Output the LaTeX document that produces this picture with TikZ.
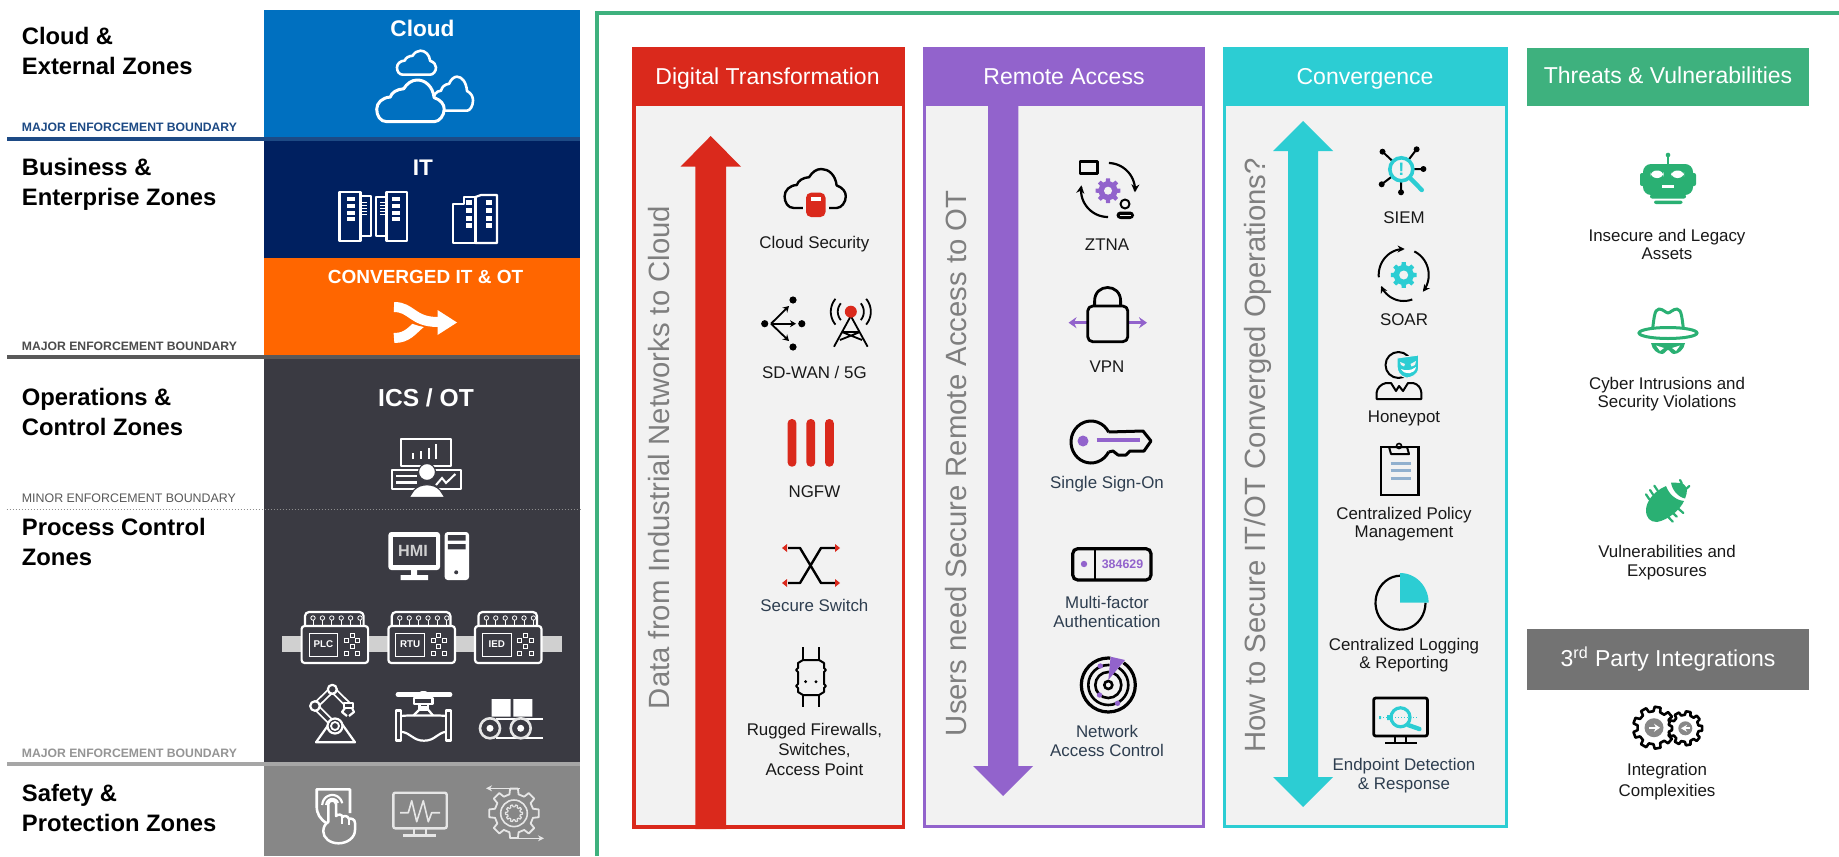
\documentclass[tikz,border=0pt]{standalone}
\usepackage{fontspec}
\setmainfont{Liberation Sans}
\usetikzlibrary{arrows.meta}
\definecolor{cBlue}{HTML}{0070C0}
\definecolor{cNavy}{HTML}{002060}
\definecolor{cOrange}{HTML}{FF6600}
\definecolor{cIcs}{HTML}{3A3A42}
\definecolor{cSafe}{HTML}{878787}
\definecolor{cB1}{HTML}{1D4A85}
\definecolor{cB2}{HTML}{595959}
\definecolor{cB3}{HTML}{A6A6A6}
\definecolor{cRed}{HTML}{DA291C}
\definecolor{cPur}{HTML}{9263CC}
\definecolor{cCyan}{HTML}{2CCDD3}
\definecolor{cGreen}{HTML}{3EB17E}
\definecolor{cIcon}{HTML}{2AB073}
\definecolor{cPanel}{HTML}{F2F2F2}
\definecolor{cHead}{HTML}{737373}
\definecolor{cSlate}{HTML}{2E3E50}
\definecolor{cRot}{HTML}{7F7F7F}
\definecolor{cBarG}{HTML}{D0D0D0}
\definecolor{cLite}{HTML}{E6E6E6}
\definecolor{cClip}{HTML}{91B0CE}
\tikzset{
  zonelabel/.style={anchor=west,align=left,inner sep=0pt,text=black,font=\fontsize{11.9}{15}\selectfont\bfseries},
  bound/.style={anchor=west,inner sep=0pt,font=\fontsize{6.1}{7}\selectfont\bfseries},
  zonetitle/.style={inner sep=0pt,text=white,font=\fontsize{11.3}{13}\selectfont\bfseries},
  coltitle/.style={anchor=base,inner sep=0pt,text=white,font=\fontsize{11.5}{13}\selectfont},
  item/.style={inner sep=0pt,align=center,text=black!90,font=\fontsize{8.45}{9.2}\selectfont},
  itemS/.style={item,text=cSlate},
  rottext/.style={rotate=90,anchor=west,inner sep=0pt,text=cRot,font=\fontsize{14.65}{16}\selectfont},
  wl/.style={draw=white,line width=1.1pt,line join=round},
  bl/.style={draw=black,line width=1pt,line join=round},
  blt/.style={draw=black,line width=1.4pt,line join=round}
}
\newcommand\CloudIcon[5]{\path[#1,shift={(#2,#3)},xscale=#4,yscale=#5] (.15,1) .. controls (.05,1) and (0,.85) .. (0,.7) .. controls (0,.55) and (.08,.42) .. (.2,.41) .. controls (.22,.3) and (.3,.22) .. (.4,.21) .. controls (.45,.08) and (.52,0) .. (.6,0) .. controls (.72,0) and (.83,.15) .. (.85,.42) .. controls (.95,.48) and (1,.58) .. (1,.7) .. controls (1,.85) and (.93,1) .. (.85,1) -- cycle;}
\newcommand\ArcP[7]{\draw[#1] plot[domain=#6:#7,samples=30] ({#2+#4*cos(\x)},{#3+#5*sin(\x)});}
\newcommand\Gear[6]{\pgfmathsetmacro\gt{360/#6}\path[#1,shift={(#2,#3)}] ({-0.2*\gt}:#5) \foreach \k [evaluate=\k as \ga using (\k-1)*\gt] in {1,...,#6}{ -- ({\ga-0.2*\gt}:#5) -- ({\ga+0.2*\gt}:#5) -- ({\ga+0.3*\gt}:#4) -- ({\ga+0.7*\gt}:#4)} -- cycle;}
\newcommand\Ctrl[3]{\begin{scope}[shift={(#1,0)}]
  \draw[wl,fill=cIcs,rounded corners=2pt] (3.4,628) -- (3.4,612) -- (62,612) -- (62,628);
  \foreach \i in {0,...,5}{\draw[white,line width=.4pt] ({11.4+9.4*\i},620) -- ({11.4+9.4*\i},625); \draw[white,line width=.4pt] ({11.4+9.4*\i},618) circle[radius=2.2];}
  \draw[wl,fill=cIcs,rounded corners=1.5pt] (0,626) rectangle (66.5,663);
  \draw[white,line width=.5pt] (7.5,633) rectangle (36,656);
  \node[inner sep=0pt,text=white,font=\fontsize{4.9}{5}\selectfont\bfseries] (#2) at (21.75,644.5) {#3};
  \foreach \p/\q in {50.5/635,44.7/640.3,56.2/640.3,50.5/646,44.7/653,56.2/653}{\draw[white,line width=.45pt] (\p-2,\q-2) rectangle (\p+2,\q+2);}
\end{scope}}
\begin{document}
\begin{tikzpicture}[x=.5pt,y=-.5pt]
\useasboundingbox (0,0) rectangle (1839,856);
\fill[white] (0,0) rectangle (1839,856);
% ---- left column bands
\fill[cBlue] (264,10) rectangle (580,137);
\fill[cNavy] (264,141) rectangle (580,258);
\fill[cOrange] (264,258) rectangle (580,355);
\fill[cIcs] (264,359) rectangle (580,763);
\fill[cSafe] (264,766) rectangle (580,856);
\fill[cB1] (6.5,136.7) rectangle (580,140.7);
\fill[cB2] (6.5,355) rectangle (580,359);
\fill[cB3] (6.5,762.3) rectangle (580,766.3);
\draw[cB3!85!black,line width=.5pt,densely dotted] (6.5,509.5) -- (580,509.5);
% left labels
\node[zonelabel] (zCloud) at (21.5,51) {Cloud \&\\External Zones};
\node[zonelabel] (zBiz) at (21.5,184) {Business \&\\Enterprise Zones};
\node[zonelabel] (zOps) at (21.5,411.5) {Operations \&\\Control Zones};
\node[zonelabel] (zProc) at (21.5,541.5) {Process Control\\Zones};
\node[zonelabel] (zSafe) at (21.5,808) {Safety \&\\Protection Zones};
\node[bound,text=cB1] (b1) at (21.5,127) {MAJOR ENFORCEMENT BOUNDARY};
\node[bound,text=cB2!85!black] (b2) at (21.5,346) {MAJOR ENFORCEMENT BOUNDARY};
\node[bound,text=cB2,font=\fontsize{6.2}{7}\selectfont] (b3) at (21.5,498.5) {MINOR ENFORCEMENT BOUNDARY};
\node[bound,text=cB3!90!black] (b4) at (21.5,753.5) {MAJOR ENFORCEMENT BOUNDARY};
\node[zonetitle] (tCloud) at (422.5,28) {Cloud};
\node[zonetitle] (tIT) at (423,168) {IT};
\node[zonetitle,font=\fontsize{9.5}{11}\selectfont\bfseries] (tConv) at (425.5,277) {CONVERGED IT \& OT};
\node[zonetitle,font=\fontsize{12.3}{14}\selectfont\bfseries] (tIcs) at (426,397.5) {ICS / OT};
% clouds
\CloudIcon{wl,line width=1.3pt,fill=cBlue}{397}{50.7}{39}{24}
\CloudIcon{wl,line width=1.3pt,fill=cBlue}{433}{76.7}{40}{34}
\CloudIcon{wl,fill=cBlue,line width=1.5pt}{376.7}{80}{67.5}{41.7}
% servers
\foreach \a/\b/\c/\d in {339.5/192/360.5/241,360.5/196/371/236,376/197/386.5/236,386.5/192/407/241}{\draw[wl,fill=cNavy] (\a,\b) rectangle (\c,\d);}
\foreach \yy in {197,204,211,217}{\fill[white] (347,\yy) rectangle (355,\yy+3.5);\fill[white] (392,\yy) rectangle (400,\yy+3.5);}
\foreach \yy in {201.5,204.5,207.5,210.5,213.5}{\fill[white] (362,\yy) rectangle (367.4,\yy+1.5);\fill[white] (380,\yy) rectangle (385,\yy+1.5);}
\draw[wl] (453,243) -- (453,204) -- (464,204) -- (464,197) -- (475.5,197) -- (475.5,243) -- cycle;
\draw[wl] (475.5,243) -- (475.5,197) -- (481,195) -- (497,195) -- (497,243) -- cycle;
\foreach \yy in {200,208,216,223}{\fill[white] (466,\yy) rectangle (472,\yy+5);\fill[white] (486,\yy) rectangle (492,\yy+5);}
% merge
\draw[white,line width=5pt] (394,338) .. controls (408,338) and (412,330) .. (422,322);
\draw[cOrange,line width=7pt] (405,312) .. controls (412,316) and (418,320) .. (438,322);
\draw[white,line width=5pt] (394,307) .. controls (412,307) and (412,322) .. (438,322);
\fill[white] (437.5,310) -- (457,322.5) -- (437.5,335) -- cycle;
% operator
\draw[wl,fill=cIcs] (401,439) rectangle (451,466);
\foreach \xx/\yy in {413/453,421/450.7,428.6/448,435.5/444}{\draw[white,line width=1pt] (\xx,459) -- (\xx,\yy);}
\draw[wl,fill=cIcs] (392,470) rectangle (461,489);
\draw[white,line width=1.2pt] (396,475.7) -- (417,475.7) (396,482.3) -- (417,482.3);
\draw[white,line width=1pt] (436,485) -- (442,478) -- (446,483) -- (455.4,474);
\fill[white,draw=cIcs,line width=.6pt] (427,472) circle[radius=8.5];
\path[fill=white,draw=cIcs,line width=.6pt] (409,497.5) -- (414,490) .. controls (420,483) and (434,483) .. (440,490) -- (445,497.5) -- cycle;
% HMI
\fill[white,rounded corners=1.5pt] (388.4,532) rectangle (440,570);
\fill[cIcs] (393,537) rectangle (436,565);
\node[inner sep=0pt,text=cBarG,font=\fontsize{8.1}{9}\selectfont\bfseries] (hmi) at (413,550.5) {HMI};
\fill[white] (411,570) rectangle (417,575) (400.7,575) rectangle (428,580);
\fill[white,rounded corners=1.5pt] (444.7,532) rectangle (469,580);
\fill[cIcs] (447.8,535) rectangle (465.7,540.7) (447.8,544) rectangle (465.7,549.3);
\fill[cIcs] (456.2,572.3) circle[radius=2];
% controllers
\fill[cBarG] (282,636) rectangle (562,652);
\Ctrl{301.6}{plc}{PLC}
\Ctrl{388.4}{rtu}{RTU}
\Ctrl{475}{ied}{IED}
% robot
\draw[wl,fill=cIcs] (316,742.3) -- (329,724) -- (342,724) -- (355,742.3) -- cycle;
\draw[white,line width=3.4pt,line cap=round,line join=round] (335,726) -- (315,706) -- (332.3,689.3) -- (348.3,705);
\draw[cIcs,line width=1.6pt,line cap=round,line join=round] (335,726) -- (315,706) -- (332.3,689.3) -- (348.3,705);
\draw[wl,fill=cIcs] (335,726) circle[radius=7.5];
\draw[white,line width=.9pt] (335,726) circle[radius=4];
\draw[wl,fill=cIcs] (315,706) circle[radius=4.8];
\draw[wl,fill=cIcs] (332.3,689.3) circle[radius=4.5];
\draw[wl,fill=cIcs] (344,703) rectangle (353,708);
\draw[wl] (345,708) -- (342,712) -- (347,716) (352,708) -- (354,712) -- (349,716);
% valve
\draw[white,line width=2.4pt,line cap=round] (398,694.7) -- (450,694.7);
\fill[white,rounded corners=1.5pt] (419,691) rectangle (428,695);
\draw[wl,fill=cIcs] (414,698) rectangle (432.5,704);
\draw[wl,fill=cIcs] (419.5,704) rectangle (428,709.5);
\fill[white] (419.5,706) rectangle (428,709.5);
\draw[wl] (413.5,715.5) -- (419.5,709.5) -- (428,709.5) -- (433,715.5);
\draw[wl] (396.2,710.5) rectangle (401.2,740.5);
\draw[wl] (446.2,710.5) rectangle (451.2,740.5);
\draw[wl] (401.2,716) .. controls (405,715.5) and (409,715.5) .. (413.5,715.5) -- (433,715.5) .. controls (438,715.5) and (442,715.5) .. (446.2,716);
\draw[wl] (401.2,731.7) .. controls (411,733) and (413,740.7) .. (424,740.7) .. controls (435,740.7) and (437,733) .. (446.2,731.7);
% conveyor
\fill[white] (491.7,699) rectangle (510.7,716.7) (513.3,699) rectangle (532.3,716.7);
\draw[white,line width=1.1pt] (496,719) -- (543,719) (496,738) -- (543,738);
\foreach \xx in {490,520.7}{\draw[cLite,line width=1.3pt,fill=cIcs] (\xx,728.3) circle[radius=10];\fill[white] (\xx,728.3) circle[radius=3.5];}
% safety: shield
\draw[white,line width=1.3pt,line join=round] (327,823.5) .. controls (320,819) and (316.7,814) .. (316.7,806) -- (316.7,789.3) -- (350,789.3) -- (350,813);
\ArcP{white,line width=1.1pt}{332.3}{805}{10}{10}{-180}{-10}
\ArcP{white,line width=1.1pt}{332.3}{805}{6}{6}{-180}{-20}
\draw[white,line width=1.25pt,fill=cSafe,line join=round] (328.3,822) -- (328.3,804) .. controls (328.3,799.5) and (336,799.5) .. (336,804) -- (336,816) .. controls (338,814) and (342,814) .. (342.5,817) .. controls (344,815.5) and (348,815.5) .. (349,819) .. controls (351,818) and (355,819) .. (355,823) -- (355,830) .. controls (355,838) and (347,843.3) .. (338.5,843.3) .. controls (330,843.3) and (323.3,838) .. (323.3,831.5) .. controls (323.3,827) and (325,824) .. (328.3,822) -- cycle;
\draw[white,line width=.9pt] (342.3,817) -- (342.3,824) (349,819) -- (349,825);
% safety: monitor
\draw[draw=cLite,line width=1.2pt,rounded corners=1pt] (393.3,792.7) rectangle (446.7,828.3);
\draw[cLite,line width=.8pt,line join=round] (400,812.7) -- (408.3,812.7) -- (411.7,800.7) -- (416.7,821.7) -- (423.3,800.7) -- (428.3,821.7) -- (431.7,812.7) -- (440,812.7);
\draw[cLite,line width=1pt] (413.5,828.3) -- (413.5,835) (426,828.3) -- (426,835);
\draw[cLite,line width=1.2pt] (403.3,835.5) -- (436,835.5);
% safety: gear
\Gear{draw=cLite,line width=.9pt,line join=round}{514}{813.3}{19.5}{25}{8}
\draw[cLite,line width=.8pt] (514,813.3) circle[radius=13.3];
\Gear{draw=cLite,line width=.6pt,line join=round}{514}{813.3}{6.5}{8.5}{10}
\draw[cLite,line width=.7pt,-{Stealth[length=3pt,width=3pt]}] (520,788.3) -- (486,788.3);
\draw[cLite,line width=.7pt,-{Stealth[length=3pt,width=3pt]}] (510,838.3) -- (544,838.3);
% ---- green frame
\draw[cGreen,line width=2pt] (597,856) -- (597,13) -- (1839,13);
% ---- panels
\fill[cRed] (632,47) rectangle (905,829);
\fill[cPanel] (635.5,106) rectangle (902,825);
\fill[cPur] (923,47) rectangle (1205,828);
\fill[cPanel] (926,106) rectangle (1202,825);
\fill[cCyan] (1223,47) rectangle (1507.5,828);
\fill[cPanel] (1226,106) rectangle (1504.5,825);
\fill[cGreen] (1527,48) rectangle (1809,106);
\fill[cHead] (1527,629) rectangle (1809,690);
\node[coltitle] (hDigital) at (767.5,84.3) {Digital Transformation};
\node[coltitle] (hRemote) at (1064,84.3) {Remote Access};
\node[coltitle] (hConv) at (1365,84.3) {Convergence};
\node[coltitle] (hThreat) at (1668,83.3) {Threats \& Vulnerabilities};
\node[coltitle] (hThird) at (1668,666.7) {3\textsuperscript{rd} Party Integrations};
% big arrows
\fill[cRed] (695.4,829) -- (695.4,166.7) -- (680.5,166.7) -- (710.7,136) -- (741,166.7) -- (726,166.7) -- (726,829) -- cycle;
\fill[cPur] (988,106) -- (988,766) -- (973,766) -- (1003,796) -- (1033,766) -- (1018.4,766) -- (1018.4,106) -- cycle;
\fill[cCyan] (1303,121) -- (1333,151) -- (1318,151) -- (1318,777) -- (1333,777) -- (1303,807) -- (1273,777) -- (1288,777) -- (1288,151) -- (1273,151) -- cycle;
\node[rottext] (rData) at (659,709.5) {Data from Industrial Networks to Cloud};
\node[rottext] (rUsers) at (956,736.5) {Users need Secure Remote Access to OT};
\node[rottext] (rHow) at (1258,753) {How to Secure IT/OT Converged Operations?};
% ---- red items
\node[item] (iCloud) at (814.4,244.5) {Cloud Security};
\node[item] (iSd) at (814.4,372) {SD-WAN / 5G};
\node[item] (iNgfw) at (814.4,492) {NGFW};
\node[itemS] (iSwitch) at (814.4,605) {Secure Switch};
\node[item,font=\fontsize{8.45}{10.2}\selectfont] (iRug) at (814.4,749.5) {Rugged Firewalls,\\Switches,\\Access Point};
\CloudIcon{bl,line width=1.2pt}{784.6}{169}{61.2}{39}
\fill[cPanel] (803,195) rectangle (828.5,220);
\fill[cRed,rounded corners=2.5pt] (806,192.7) rectangle (825.5,217);
\fill[white] (811,197) rectangle (820.8,201);
% sd-wan
\foreach \xx/\yy in {793/300,764.7/323.7,801.8/323.7,793/347}{\fill (\xx,\yy) circle[radius=3.6];}
\draw[black,line width=.9pt,-{Stealth[length=3pt,width=3.5pt]}] (771,323.7) -- (789,306);
\draw[black,line width=.9pt,-{Stealth[length=3pt,width=3.5pt]}] (771,323.7) -- (796,323.7);
\draw[black,line width=.9pt,-{Stealth[length=3pt,width=3.5pt]}] (771,323.7) -- (789,341);
% 5G tower
\foreach \r/\q in {13/40,20/40}{\ArcP{black,line width=.9pt}{850.8}{311.7}{\r}{\r}{-\q}{\q}\ArcP{black,line width=.9pt}{850.8}{311.7}{\r}{\r}{{180-\q}}{{180+\q}}}
\draw[black,line width=.9pt,line join=round] (834,346.7) -- (850.8,316) -- (867.6,346.7) (842,332) -- (860,332) (842,332) -- (862,340) (860,332) -- (840,340);
\fill[cRed] (850.8,311.7) circle[radius=6];
% NGFW
\foreach \xx in {787.6,806.4,825}{\fill[cRed,rounded corners=2.1pt] (\xx,419) rectangle (\xx+8.8,466.7);}
% switch
\draw[black,line width=1.2pt,line join=round] (788,548) -- (800,548) -- (821,583) -- (835,583) (788,583) -- (800,583) -- (821,548) -- (835,548);
\foreach \xx/\s in {782/1,840/-1}{\foreach \yy in {548,583}{\fill[cRed] (\xx,\yy) -- (\xx+\s*5,\yy-4) -- (\xx+\s*5,\yy+4) -- cycle;}}
% rugged
\draw[black,line width=1pt,line join=round] (798,663) -- (803,660) -- (819,660) -- (824,663) -- (824,668) -- (826,670) -- (824,672) -- (824,684) -- (826,686) -- (824,688) -- (824,692) -- (819,695) -- (803,695) -- (798,692) -- (798,688) -- (796,686) -- (798,684) -- (798,672) -- (796,670) -- (798,668) -- cycle;
\draw[black,line width=1pt] (803,647) -- (803,660) (819,647) -- (819,660) (803,695) -- (803,707) (819,695) -- (819,707);
\fill (805.6,681.7) circle[radius=1.6] (816,681.7) circle[radius=1.6];
% ---- purple items
\node[item] (iZtna) at (1107,244.5) {ZTNA};
\node[item] (iVpn) at (1107,367) {VPN};
\node[itemS] (iSso) at (1107,484.5) {Single Sign-On};
\node[itemS] (iMfa) at (1107,612) {Multi-factor\\Authentication};
\node[itemS] (iNac) at (1107,741) {Network\\Access Control};
% ztna
\draw[blt] (1080,161.7) rectangle (1097.6,173.3);
\ArcP{black,line width=1.1pt,-{Stealth[length=4pt,width=4pt]}}{1108}{190}{27}{27}{-88}{5}
\ArcP{black,line width=1.1pt,-{Stealth[length=4pt,width=4pt]}}{1108}{190}{27}{27}{90}{190}
\Gear{fill=cPur}{1108}{190.7}{9.5}{12.5}{8}
\fill[cPanel] (1108,190.7) circle[radius=4];
\draw[bl] (1125,204) circle[radius=4.5];
\draw[bl,rounded corners=1.5pt,fill=black] (1117.5,212.5) rectangle (1133,218);
\fill[cPanel] (1120,214.5) rectangle (1130.5,216);
% vpn
\draw[cPur,line width=1.4pt,{Stealth[length=4pt,width=5.5pt]}-{Stealth[length=4pt,width=5.5pt]}] (1068.5,322.7) -- (1147,322.7);
\draw[blt,fill=cPanel,rounded corners=2.5pt] (1087.7,306) rectangle (1127.8,341.7);
\draw[blt] (1094.6,306) -- (1094.6,301) .. controls (1094.6,283) and (1120.6,283) .. (1120.6,301) -- (1120.6,306);
% key
\ArcP{black,line width=1.5pt}{1091}{442}{20}{21}{28}{332}
\draw[black,line width=1.5pt,line join=round] (1108.7,432) -- (1143,431) -- (1151,441) -- (1144,451) -- (1130,451) -- (1126,455) -- (1118,455) -- (1113,451) -- (1108.7,452);
\fill[cPur] (1083,441) circle[radius=5.5];
\draw[cPur,line width=2pt] (1096.5,439.5) -- (1139.7,439.5);
% mfa
\draw[black,line width=1.6pt,rounded corners=2.5pt] (1072.7,548.7) rectangle (1151,580);
\draw[black,line width=1.4pt] (1095,548.7) -- (1095,580);
\fill[cPur] (1084,564) circle[radius=3.2];
\node[inner sep=0pt,text=cPur,font=\fontsize{6.2}{7}\selectfont\bfseries] (mfaCode) at (1122.5,564) {384629};
% nac
\foreach \r/\w in {27/1.6,20/1.3,13/1.3}{\draw[black,line width=\w pt] (1108.3,685) circle[radius=\r];}
\draw[black,line width=1.3pt] (1108.3,685) circle[radius=4];
\fill[cPanel] (1108.3,678) -- (1111,652) -- (1130,656) -- cycle;
\fill[cPur] (1108.3,680) -- (1110.6,656.7) -- (1125,660) -- cycle;
\foreach \xx/\yy in {1100.3/666,1099.5/695,1117.5/703.3}{\fill[cPur] (\xx,\yy) circle[radius=2.7];}
% ---- cyan items
\node[item] (iSiem) at (1404,218) {SIEM};
\node[item] (iSoar) at (1404,319.5) {SOAR};
\node[item] (iHoney) at (1404,418.5) {Honeypot};
\node[item] (iPolicy) at (1404,524) {Centralized Policy\\Management};
\node[item] (iLog) at (1404,655) {Centralized Logging\\\& Reporting};
\node[itemS] (iEdr) at (1404,775.5) {Endpoint Detection\\\& Response};
% siem
\foreach \xx/\yy in {1382.5/151.7,1416.6/149.3,1423.4/169,1381.7/184.3,1401/192.3}{\draw[black,line width=1pt] (1401.3,169.3) -- (\xx,\yy);\fill (\xx,\yy) circle[radius=3];}
\draw[cCyan,line width=2.2pt,line cap=round] (1410,178) -- (1421.8,190);
\draw[cCyan,line width=1.8pt,fill=cPanel] (1401.3,169.3) circle[radius=11.5];
\node[inner sep=0pt,text=cCyan,font=\fontsize{9}{10}\selectfont\bfseries] (siemMark) at (1401.3,169.3) {!};
% soar
\ArcP{black,line width=1pt,-{Stealth[length=3.5pt,width=3.5pt]}}{1403.7}{275}{25}{26}{175}{272}
\ArcP{black,line width=1pt,-{Stealth[length=3.5pt,width=3.5pt]}}{1403.7}{275}{25}{26}{-65}{40}
\ArcP{black,line width=1pt,-{Stealth[length=3.5pt,width=3.5pt]}}{1403.7}{275}{25}{26}{70}{155}
\Gear{fill=cCyan}{1403.7}{275}{10}{13}{8}
\fill[cPanel] (1403.7,275) circle[radius=4.5];
% honeypot
\draw[bl] (1398.5,365) circle[radius=13];
\draw[bl] (1376.5,399) -- (1376.5,393) .. controls (1377,388) and (1381,384) .. (1386,383) -- (1391,383) -- (1396,391) -- (1399,386) -- (1403,391) -- (1408,383) -- (1413,383) .. controls (1418,384) and (1421,388) .. (1421.4,393) -- (1421.4,399) -- cycle;
\path[fill=cCyan,draw=cPanel,line width=.5pt] (1397,358) -- (1418.6,355) -- (1418.6,368) .. controls (1418,376) and (1410,378) .. (1406,378) .. controls (1400,376) and (1397,372) .. (1397,366) -- cycle;
\fill[cPanel] (1400,362) -- (1405,364) -- (1404,366.5) -- (1401,365) -- cycle (1416,361) -- (1410.5,364) -- (1411.5,366.5) -- (1415,365) -- cycle;
\fill[white] (1401,369) .. controls (1405,371) and (1411,371) .. (1416,367) .. controls (1415,374) and (1405,376) .. (1401,369) -- cycle;
% clipboard
\draw[black,line width=1.2pt] (1381,447) rectangle (1418.6,495);
\draw[bl,fill=cPanel] (1389,447) -- (1407,447) -- (1409,454) -- (1391,454) -- cycle;
\draw[black,line width=.8pt] (1399,446) circle[radius=2.5];
\foreach \yy in {463,470,478}{\draw[cClip,line width=1.5pt] (1390.5,\yy) -- (1410.6,\yy);}
% pie
\ArcP{black,line width=1.1pt}{1400.5}{602.7}{25}{27}{0}{270}
\fill[cCyan] (1400,602.7) -- plot[domain=-90:0,samples=20] ({1400+28.6*cos(\x)},{602.7+29.7*sin(\x)}) -- cycle;
% endpoint
\draw[blt,fill=cPanel,rounded corners=1pt] (1373.7,698) rectangle (1427.4,736);
\draw[black,line width=1pt] (1395,736) -- (1395,743) (1406,736) -- (1406,743);
\draw[blt] (1385,743) -- (1417,743);
\draw[cCyan,line width=.5pt,densely dotted] (1380,717.5) -- (1418,717.5);
\draw[cCyan,line width=2.2pt,line cap=round] (1408,725) -- (1419.4,729);
\draw[cCyan,line width=1.6pt] (1400.5,717.3) circle[radius=9.5];
\fill[cCyan] (1379,716) rectangle (1381,719) (1387,715) rectangle (1391,720);
% ---- threats items
\node[item] (iIns) at (1667,244.5) {Insecure and Legacy\\Assets};
\node[item] (iCyb) at (1667,394) {Cyber Intrusions and\\Security Violations};
\node[item] (iVul) at (1667,562.5) {Vulnerabilities and\\Exposures};
\node[item,font=\fontsize{8.45}{10.4}\selectfont] (iInt) at (1667,781.5) {Integration\\Complexities};
% robot head
\draw[cIcon,line width=1pt] (1668,155) -- (1668,165);
\fill[cIcon] (1668,155) circle[radius=2.3];
\fill[cIcon,rounded corners=4pt] (1643,164) rectangle (1693,195);
\fill[cIcon,rounded corners=1pt] (1640,173) rectangle (1696,186);
\fill[white,rounded corners=3pt] (1650.5,170.5) rectangle (1663.5,178);
\fill[white,rounded corners=3pt] (1671,170.5) rectangle (1684,178);
\fill[white] (1662,184.5) rectangle (1674,187.5);
\fill[cIcon,rounded corners=1pt] (1650,194.5) rectangle (1686,198.5) (1654,200.5) rectangle (1682.5,204);
% hat
\draw[cIcon,line width=1.5pt,line join=round,fill=white] (1652,333) .. controls (1654,320) and (1654,309) .. (1659,309) .. controls (1663,309) and (1666,313) .. (1668,313) .. controls (1670,313) and (1673,309) .. (1677,309) .. controls (1682,309) and (1682,320) .. (1684,333);
\draw[cIcon,line width=1.5pt,fill=white] (1668,333) ellipse[x radius=29,y radius=5.5];
\path[fill=cIcon] (1651,343) -- (1685,343) .. controls (1684,350) and (1678,354) .. (1674,354) .. controls (1671,354) and (1670,350) .. (1668,350) .. controls (1666,350) and (1665,354) .. (1662,354) .. controls (1658,354) and (1652,350) .. (1651,343) -- cycle;
\fill[white] (1656,345.5) -- (1664,348) -- (1660,351) -- cycle (1680,345.5) -- (1672,348) -- (1676,351) -- cycle;
% bug
\path[fill=cIcon] (1666,486) .. controls (1652,492) and (1646,503) .. (1646,510) .. controls (1646,518) and (1650,522) .. (1657,522) .. controls (1668,520) and (1680,510) .. (1684,501) .. controls (1675,500) and (1669,494) .. (1666,486) -- cycle;
\path[fill=cIcon] (1671,482.5) -- (1682,483) .. controls (1685,485) and (1687,488) .. (1687,490) .. controls (1687,493) and (1686,496) .. (1685,498.5) .. controls (1678,497) and (1672,490) .. (1671,482.5) -- cycle;
\draw[cIcon,line width=1.1pt,line cap=round] (1657.7,490.7) -- (1654.3,485.7) (1653.3,495) -- (1650,490) (1649.3,499.3) -- (1646,494.3) (1683.3,513) -- (1677,507.5) (1676.7,516.7) -- (1671,511) (1672.7,521.7) -- (1668,516.7) (1681.7,483) -- (1680,480) (1685,490) -- (1689.3,486);
% integration gears
\Gear{draw=black,line width=1.3pt,fill=white,line join=round}{1654}{727.7}{16.5}{21}{9}
\Gear{draw=black,line width=1.3pt,fill=white,line join=round}{1685.3}{728.3}{13.5}{17}{9}
\fill[cHead!85] (1654,727.7) circle[radius=9.5] (1685.3,728.3) circle[radius=7];
\draw[white,line width=1pt,-{Stealth[length=3pt,width=4pt]}] (1649,727.7) -- (1660,727.7);
\draw[white,line width=.9pt,-{Stealth[length=3pt,width=3.5pt]}] (1690,728.3) -- (1681,728.3);
\end{tikzpicture}
\end{document}
